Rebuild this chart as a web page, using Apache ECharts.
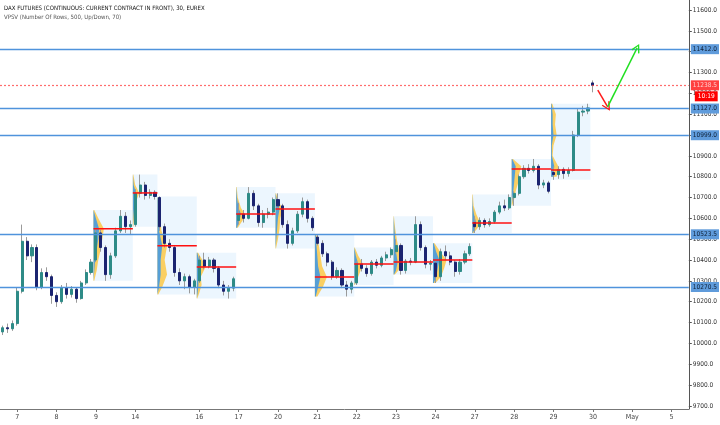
<!DOCTYPE html>
<html><head><meta charset="utf-8">
<script src="https://cdn.jsdelivr.net/npm/echarts@6/dist/echarts.min.js"></script>
<style>html,body{margin:0;padding:0;background:#fff}#c{width:720px;height:425px}</style>
</head><body><div id="c"></div>
<script>
// ---- sessions (30-min bars per trading day) ----
const sessionDays = ['6','7','8','9','14','15','16','17','20','21','22','23','24','27','28','29','30','May','5'];
const sessionBars = [3,8,8,8,5,8,8,8,8,8,8,8,8,8,8,8,8,8,4];
const hiddenDayLabels = ['6','15'];

// ---- candles [open, close, low, high] ----
const d06 = [[10055,10075,10040,10085],[10075,10070,10050,10095],[10070,10095,10060,10110]];
const d07 = [[10095,10250,10085,10270],[10250,10490,10240,10570],[10490,10420,10400,10510],[10420,10460,10390,10475],
             [10460,10270,10255,10475],[10270,10340,10260,10360],[10340,10320,10300,10365],[10320,10230,10190,10330]];
const d08 = [[10230,10200,10175,10245],[10200,10265,10190,10280],[10265,10235,10215,10290],[10235,10260,10220,10275],
             [10260,10215,10195,10270],[10215,10290,10210,10300],[10290,10340,10280,10355],[10340,10390,10330,10405]];
const d09 = [[10400,10530,10390,10560],[10530,10460,10440,10545],[10460,10330,10300,10470],[10330,10420,10310,10435],
             [10420,10540,10410,10555],[10540,10610,10530,10640],[10610,10560,10530,10630],[10560,10570,10520,10590]];
const d14 = [[10570,10720,10560,10740],[10720,10760,10700,10810],[10760,10710,10690,10775],[10710,10725,10695,10740],[10725,10705,10690,10735]];
const d15 = [[10700,10560,10540,10705],[10560,10480,10460,10575],[10480,10460,10440,10500],[10460,10340,10320,10470],
             [10340,10300,10280,10360],[10300,10320,10260,10335],[10320,10270,10240,10330],[10270,10300,10235,10310]];
const d16 = [[10300,10400,10290,10420],[10400,10370,10355,10435],[10370,10400,10360,10415],[10400,10360,10340,10410],
             [10360,10280,10265,10370],[10280,10250,10230,10300],[10250,10265,10215,10280],[10265,10310,10250,10320]];
const d17 = [[10590,10620,10570,10675],[10620,10600,10580,10640],[10600,10720,10595,10750],[10720,10660,10640,10735],
             [10660,10580,10560,10670],[10580,10620,10555,10640],[10620,10630,10600,10650],[10630,10690,10615,10700]];
const d20 = [[10690,10660,10640,10720],[10660,10570,10555,10670],[10570,10480,10455,10590],[10480,10540,10470,10555],
             [10540,10620,10530,10635],[10620,10680,10605,10700],[10680,10600,10580,10690],[10600,10555,10540,10610]];
const d21 = [[10510,10480,10470,10520],[10480,10430,10415,10495],[10430,10390,10370,10440],[10390,10320,10305,10400],
             [10320,10350,10310,10365],[10350,10280,10265,10360],[10280,10260,10225,10300],[10260,10290,10240,10300]];
const d22 = [[10290,10380,10280,10395],[10380,10360,10345,10405],[10360,10335,10320,10375],[10335,10390,10325,10400],
             [10390,10375,10360,10405],[10375,10410,10365,10420],[10410,10425,10395,10440],[10425,10450,10410,10460]];
const d23 = [[10440,10470,10430,10500],[10470,10350,10330,10480],[10350,10395,10335,10405],[10395,10390,10375,10410],
             [10390,10570,10385,10610],[10570,10460,10445,10585],[10460,10380,10360,10470],[10380,10385,10350,10400]];
const d24 = [[10385,10320,10290,10395],[10320,10440,10300,10455],[10440,10420,10400,10470],[10420,10390,10375,10440],
             [10390,10345,10320,10400],[10345,10390,10330,10405],[10390,10430,10380,10445],[10430,10465,10420,10480]];
const d27 = [[10580,10560,10530,10610],[10560,10590,10545,10605],[10590,10570,10555,10600],[10570,10585,10560,10600],
             [10585,10630,10575,10640],[10630,10660,10620,10680],[10660,10650,10635,10690],[10650,10700,10640,10715]];
const d28 = [[10700,10720,10660,10730],[10720,10800,10710,10810],[10800,10840,10790,10855],[10840,10830,10815,10860],
             [10830,10850,10820,10885],[10850,10760,10740,10860],[10760,10770,10745,10785],[10770,10730,10720,10780]];
const d29 = [[10820,10810,10785,10850],[10810,10835,10790,10850],[10835,10815,10790,10845],[10815,10830,10800,10845],
             [10830,11000,10825,11020],[11000,11110,10990,11125],[11110,11115,11090,11140],[11115,11130,11100,11150]];
const d30 = [[11250,11238.5,11205,11262]];

// ---- price axis ticks / levels ----
const yTicks = [9700,9800,9900,10000,10100,10200,10300,10400,10500,10600,10700,10800,10900,11000,11100,11200,11300,11400,11500,11600];
const levelLines = [11412, 11127, 10999, 10523.5, 10270.5];
const lastPrice = 11238.5;
const timerText = '10:19';

// ---- session volume profiles: [price, upVol, downVol] high -> low ----
const vpDays = ['9','14','15','16','17','20','21','22','23','24','27','28','29'];
const pocPrices = [10550,10722,10468,10367,10621,10645,10319,10381,10390,10400,10578,10837,10832];
const vp09 = [[10640,0,0.5],[10600,1.5,1.5],[10550,3.5,3],[10500,3,2.5],[10450,2,2.5],[10400,1,2],[10350,0.5,1.5],[10300,0,0.5]];
const vp14 = [[10810,0,0.3],[10760,0.5,1],[10722,2,2],[10680,1,1],[10620,0.5,0.5],[10560,0,0.3]];
const vp15 = [[10700,0.3,0.5],[10620,0.5,1],[10540,1,1.5],[10468,3,3],[10400,2,2.5],[10330,2,4],[10270,1,2],[10235,0,0.5]];
const vp16 = [[10435,0.3,0.5],[10400,1.5,2],[10367,2.5,3],[10320,1,1.5],[10280,1,2],[10240,0.5,1],[10215,0,0.3]];
const vp17 = [[10750,0,0.3],[10700,0.5,0.5],[10650,1.5,1.5],[10621,3,2.5],[10590,2,2],[10555,0.5,0.5]];
const vp20 = [[10720,0,0.3],[10680,1,1],[10645,2.5,2],[10600,1.5,1.5],[10550,1,1.5],[10500,0.5,1],[10455,0,0.3]];
const vp21 = [[10520,0.5,0.5],[10470,1,1.5],[10420,1.5,2],[10370,2,2.5],[10319,3.5,4],[10270,2,3],[10225,0.5,1]];
const vp22 = [[10460,0,0.3],[10420,1,1.5],[10381,2.5,3],[10340,1.5,2],[10300,0.5,1],[10280,0,0.3]];
const vp23 = [[10610,0,0.2],[10550,0.5,0.5],[10500,1,1],[10440,1.5,2],[10390,2.5,2.5],[10350,1.5,1.5],[10330,0.3,0.5]];
const vp24 = [[10480,0.5,0.5],[10440,2,2.5],[10400,4,4.5],[10360,3,4],[10320,2,3],[10290,0.5,1]];
const vp27 = [[10715,0,0.3],[10660,0.3,0.5],[10620,1,1.5],[10578,2.5,2.5],[10550,1.5,1.5],[10530,0.3,0.5]];
const vp28 = [[10885,0.3,0.5],[10850,2.5,3.5],[10810,2,2.5],[10770,1.5,2.5],[10730,1,1.5],[10690,0.5,1],[10660,0,0.3]];
const vp29 = [[11150,0.3,0.5],[11100,1,2],[11050,1,1.5],[11000,1.5,2],[10950,0.5,1],[10900,0.5,0.5],[10850,2,2.5],[10800,1.5,2]];
const vpProfiles = [vp09,vp14,vp15,vp16,vp17,vp20,vp21,vp22,vp23,vp24,vp27,vp28,vp29];

// ---- drawn arrows [barIndex, price] ----
const redArrow = [[121, 11215],[123, 11135]];
const greenArrow = [[123, 11135],[129, 11418]];

// ================= build =================
const FONT = "'Liberation Sans Narrow','DejaVu Sans Condensed','Liberation Sans',sans-serif";
const categories = [], sessionStart = [];
sessionDays.forEach((d,i)=>{ sessionStart.push(categories.length); for(let k=0;k<sessionBars[i];k++) categories.push(d+'#'+k); });
const candles = [].concat(d06,d07,d08,d09,d14,d15,d16,d17,d20,d21,d22,d23,d24,d27,d28,d29,d30);
const bodies = candles.map(c=>[c[0],c[1],Math.min(c[0],c[1]),Math.max(c[0],c[1])]);

const vpData = vpDays.map((d,k)=>{
  const s = sessionDays.indexOf(d);
  const a = sessionStart[s], b = a + sessionBars[s] - 1;
  let lo = Infinity, hi = -Infinity;
  for (let i=a;i<=b;i++){ if(candles[i]){ lo=Math.min(lo,candles[i][2]); hi=Math.max(hi,candles[i][3]); } }
  return [a,b,lo,hi,pocPrices[k],k];
});
const VOL_PX = 1.6;
function showLabel(idx, val){ const p=val.split('#'); return p[1]==='0' && hiddenDayLabels.indexOf(p[0])<0; }

function boxRender(params, api){
  const a=api.value(0), b=api.value(1), lo=api.value(2), hi=api.value(3), k=api.value(5);
  const bw = api.size([1,0])[0];
  const pt = api.coord([a,hi]), pb = api.coord([b,lo]);
  const x0 = pt[0]-bw/2, x1 = pb[0]+bw/2;
  const prof = vpProfiles[k];
  const ys = prof.map(r=>api.coord([a,r[0]])[1]);
  const tot = [[x0,ys[0]]], up=[[x0,ys[0]]];
  prof.forEach((r,i)=>{ tot.push([x0+(r[1]+r[2])*VOL_PX, ys[i]]); up.push([x0+r[1]*VOL_PX, ys[i]]); });
  tot.push([x0,ys[ys.length-1]]); up.push([x0,ys[ys.length-1]]);
  return {type:'group', children:[
    {type:'rect', shape:{x:x0,y:pt[1],width:x1-x0,height:pb[1]-pt[1]}, style:{fill:'rgba(66,165,245,0.10)'}},
    {type:'polygon', shape:{points:tot}, style:{fill:'rgba(253,200,70,0.85)'}},
    {type:'polygon', shape:{points:up}, style:{fill:'rgba(56,150,235,0.85)'}}
  ]};
}
function pocRender(params, api){
  const a=api.value(0), b=api.value(1), poc=api.value(4);
  const bw = api.size([1,0])[0];
  const p0 = api.coord([a,poc]), p1 = api.coord([b,poc]);
  return {type:'line', shape:{x1:p0[0]-bw/2,y1:p0[1],x2:p1[0]+bw/2,y2:p1[1]}, style:{stroke:'#ff1010',lineWidth:1.5}};
}

const badge = (bg, fg) => ({show:true, position:'end', distance:2, backgroundColor:bg, color:fg, fontSize:6.5, fontFamily:FONT, padding:[2,2,1,2]});
const levelMarks = levelLines.map(v=>({yAxis:v, lineStyle:{color:'#4f93dc', width:1.3, type:'solid'}, label:Object.assign(badge('#5f9bdb','#0d1f36'),{formatter:v.toFixed(1)})}));
levelMarks.push({yAxis:lastPrice, lineStyle:{color:'#ff3b3b', width:1.2, type:[2,2], opacity:0.75}, label:Object.assign(badge('#ff0000','#ffffff'),{formatter:lastPrice.toFixed(1)})});
const timerMarks = [{yAxis:lastPrice, lineStyle:{color:'rgba(0,0,0,0)', width:0}, label:Object.assign(badge('#ff0000','#ffffff'),{formatter:timerText, offset:[4,11], padding:[2,3,1,3]})}];
const chevron = 'path://M0,10 L5,0 L10,10 L8.6,10.8 L5,3.2 L1.4,10.8 Z';
const arrowDefs = [[redArrow,'#ff1a1a'],[greenArrow,'#22e022']];
const arrowMarks = arrowDefs.map(([pts,c])=>[
  {coord:pts[0], symbol:'none', lineStyle:{color:c,width:1.5,type:'solid'}, itemStyle:{color:c}},
  {coord:pts[1], symbol:chevron, symbolSize:[9,9], itemStyle:{color:c}}
]);

const chart = echarts.init(document.getElementById('c'), null, {renderer:'canvas'});
chart.setOption({
  animation:false,
  backgroundColor:'#ffffff',
  title:{text:'DAX FUTURES (CONTINUOUS: CURRENT CONTRACT IN FRONT), 30, EUREX', subtext:'VPSV (Number Of Rows, 500, Up/Down, 70)',
    left:4, top:5, itemGap:3, padding:0,
    textStyle:{fontSize:6, fontWeight:'normal', color:'#111', fontFamily:FONT},
    subtextStyle:{fontSize:6, color:'#555', fontFamily:FONT}},
  grid:{left:0, right:28, top:0, bottom:16, containLabel:false},
  xAxis:{type:'category', data:categories, boundaryGap:true,
    axisLine:{show:true, lineStyle:{color:'#777', width:1}},
    axisTick:{show:true, alignWithLabel:true, interval:showLabel, length:3, lineStyle:{color:'#777'}},
    axisLabel:{interval:showLabel, formatter:v=>v.split('#')[0], fontSize:7, color:'#444', margin:5, fontFamily:FONT},
    splitLine:{show:false}},
  yAxis:{type:'value', position:'right', min:9685, max:11648,
    splitLine:{show:false},
    axisLine:{show:true, lineStyle:{color:'#555', width:1}},
    axisTick:{show:true, length:3, customValues:yTicks, lineStyle:{color:'#555'}},
    axisLabel:{customValues:yTicks, formatter:v=>v.toFixed(1), fontSize:6.5, color:'#333', margin:4, fontFamily:FONT}},
  series:[
    {type:'custom', name:'vp', renderItem:boxRender, data:vpData, z:1, silent:true, encode:{x:0, y:3}},
    {type:'candlestick', name:'wicks', data:candles, barWidth:1, z:2, silent:true,
      itemStyle:{color:'#9a9a9a', color0:'#9a9a9a', borderColor:'#9a9a9a', borderColor0:'#9a9a9a', borderWidth:1}},
    {type:'candlestick', name:'bodies', data:bodies, barWidth:2.6, z:3, silent:true,
      itemStyle:{color:'#2e8b87', color0:'#1b2470', borderColor:'#2e8b87', borderColor0:'#1b2470', borderWidth:1}},
    {type:'custom', name:'poc', renderItem:pocRender, data:vpData, z:4, silent:true, encode:{x:0, y:4}},
    {type:'line', name:'levels', data:[], z:5, silent:true,
      markLine:{silent:true, symbol:['none','none'], animation:false, data:levelMarks}},
    {type:'line', name:'timer', data:[], z:6, silent:true,
      markLine:{silent:true, symbol:['none','none'], animation:false, data:timerMarks}},
    {type:'line', name:'arrows', data:[], z:7, silent:true,
      markLine:{silent:true, animation:false, label:{show:false}, data:arrowMarks}}
  ]
});
</script></body></html>
